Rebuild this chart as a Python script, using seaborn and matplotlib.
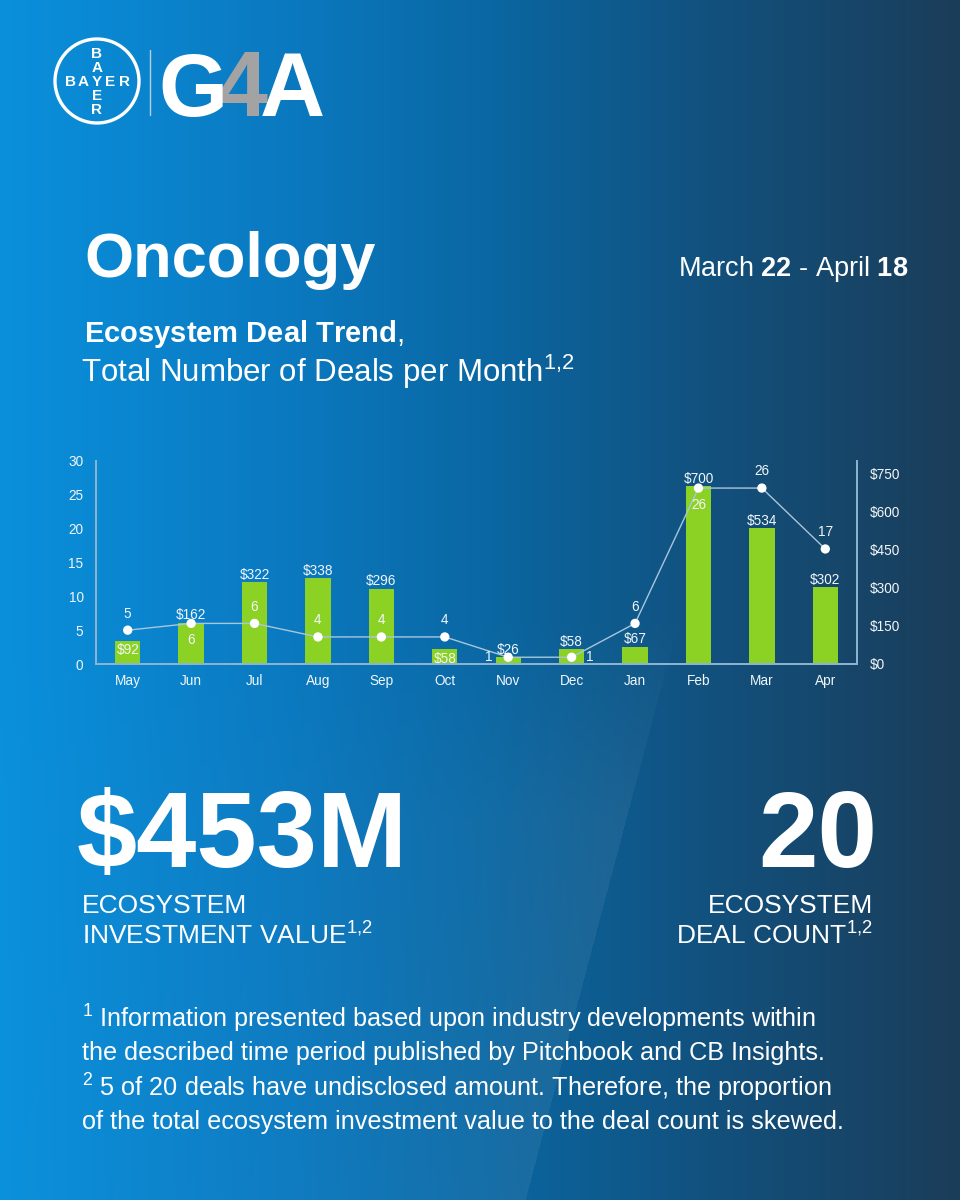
import numpy as np
import matplotlib
matplotlib.use('Agg')
import matplotlib.pyplot as plt
from matplotlib.patches import Circle
import seaborn as sns

months = ['May', 'Jun', 'Jul', 'Aug', 'Sep', 'Oct', 'Nov', 'Dec', 'Jan', 'Feb', 'Mar', 'Apr']
investment = [92, 162, 322, 338, 296, 58, 26, 58, 67, 700, 534, 302]   # $M, bars
deal_counts = [5, 6, 6, 4, 4, 4, 1, 1, 6, 26, 26, 17]                 # line
count_ticks = [0, 5, 10, 15, 20, 25, 30]
value_ticks = [0, 150, 300, 450, 600, 750]

# where each number label sits relative to its mark
value_label_pos = ['in', 'above', 'above', 'above', 'above', 'in',
                   'above', 'above', 'above', 'above', 'above', 'above']
count_label_pos = ['above', 'below', 'above', 'above', 'above', 'above',
                   'left', 'right', 'above', 'below', 'above', 'above']

W, H = 960, 1200
GREEN = '#8cd225'
LINE = '#a8c6dc'
SPINE = '#8db4d0'
TXT = '#f2f6fa'

sns.set_style('white')
plt.rcParams['font.family'] = ['Liberation Sans', 'DejaVu Sans']
plt.rcParams['mathtext.fontset'] = 'custom'
plt.rcParams['mathtext.rm'] = 'Liberation Sans'
plt.rcParams['mathtext.bf'] = 'Liberation Sans:bold'
plt.rcParams['mathtext.it'] = 'Liberation Sans:italic'


def background():
    xs = np.linspace(0, 1, W)
    stops = [0, 0.3, 0.5, 0.75, 1]
    cols = np.array([[10, 144, 220], [10, 121, 192], [10, 104, 164],
                     [18, 80, 124], [27, 61, 89]]) / 255
    row = np.stack([np.interp(xs, stops, cols[:, i]) for i in range(3)], axis=1)
    img = np.repeat(row[None, :, :], H, axis=0)
    # soft diagonal sheen in the lower half
    yy, xx = np.mgrid[0:H, 0:W]
    edge = 660 - (yy - 690) * 135 / 510
    d = edge - xx
    sheen = np.where(d > 0, np.exp(-np.clip(d, 0, None) / 260), 0) * np.clip((yy - 620) / 200, 0, 1)
    img = img + (1 - img) * 0.06 * sheen[..., None]
    return np.clip(img, 0, 1)


fig = plt.figure(figsize=(W / 100, H / 100), dpi=100)
bg = fig.add_axes([0, 0, 1, 1])
bg.imshow(background(), extent=(0, W, H, 0), aspect='auto', interpolation='bilinear')
bg.set_xlim(0, W)
bg.set_ylim(H, 0)
bg.axis('off')

# --- logo ---
bg.add_patch(Circle((97, 81), 42, fill=False, ec='white', lw=2.4))
for letter, dx in zip('BAYER', [-27, -13.5, 0, 13.5, 27]):
    bg.text(97 + dx, 82, letter, color='white', fontsize=11, weight='bold', ha='center', va='center')
for letter, dy in zip('BAER', [-28, -14, 14, 28]):
    bg.text(97, 82 + dy, letter, color='white', fontsize=11, weight='bold', ha='center', va='center')
bg.plot([150, 150], [50, 115], color='#b9cfe0', lw=1)
bg.text(158, 116, 'G', color='white', fontsize=64, weight='bold', va='baseline', zorder=3)
bg.text(217, 116, '4', color='#a3a3a3', fontsize=66, weight='bold', va='baseline', zorder=2)
bg.text(260, 116, 'A', color='white', fontsize=65, weight='bold', va='baseline', zorder=4)

# --- headings ---
bg.text(84, 277, 'Oncology', color='white', fontsize=45.5, weight='bold', va='baseline')
bg.text(908, 276, r'March $\mathbf{22}$ - April $\mathbf{18}$', color='white', fontsize=19.5,
        ha='right', va='baseline')
bg.text(84, 342, r'$\mathbf{Ecosystem\ Deal\ Trend}$,', color='white', fontsize=21, va='baseline')
bg.text(81, 382, r'Total Number of Deals per Month$^{1{,}2}$', color='white', fontsize=22.5, va='baseline')

# --- chart ---
ax = fig.add_axes([96 / W, 1 - 664 / H, 761 / W, 203 / H])
ax.set_facecolor('none')
sns.barplot(x=months, y=investment, ax=ax, color=GREEN, saturation=1, width=0.4,
            errorbar=None, linewidth=0, edgecolor='none')
ax.set_ylim(0, 800)
ax.set_xlim(-0.5, len(months) - 0.5)
ax.set_xticks(range(len(months)), months)
ax.set_xlabel('')
ax.set_ylabel('')

ax2 = ax.twinx()
ax2.set_facecolor('none')
x_pos = np.arange(len(months))
sns.lineplot(x=x_pos, y=deal_counts, ax=ax2, color=LINE, lw=1)
sns.scatterplot(x=x_pos, y=deal_counts, ax=ax2, color='white', s=45, edgecolor='none', zorder=3)
ax2.set_ylim(0, 30)
ax2.yaxis.tick_left()
ax2.set_yticks(count_ticks)
ax2.set_ylabel('')

# twinx moved the money axis left, put it back on the right
ax.yaxis.tick_right()
ax.set_yticks(value_ticks, [f'${v}' for v in value_ticks])

for a in (ax, ax2):
    a.spines['top'].set_visible(False)
    for side in ('left', 'right', 'bottom'):
        a.spines[side].set_color(SPINE)
        a.spines[side].set_linewidth(1.3)
    a.tick_params(length=0, colors=TXT, labelsize=9.8)
ax.tick_params(axis='y', pad=9)
ax2.tick_params(axis='y', pad=9)
ax.tick_params(axis='x', pad=7)

for i, v in enumerate(investment):
    if value_label_pos[i] == 'in':
        ax.annotate(f'${v}', (i, v), xytext=(0, -2), textcoords='offset points',
                    ha='center', va='top', color=TXT, fontsize=9.8)
    else:
        ax.annotate(f'${v}', (i, v), xytext=(0, 0.5), textcoords='offset points',
                    ha='center', va='bottom', color=TXT, fontsize=9.8)

offsets = {'above': (0, 12), 'below': (0, -12), 'left': (-14, 0), 'right': (13, 0)}
for i, c in enumerate(deal_counts):
    ax2.annotate(str(c), (i, c), xytext=offsets[count_label_pos[i]], textcoords='offset points',
                 ha='center', va='center', color=TXT, fontsize=9.8)

# --- key figures ---
bg.text(77, 867, '$453M', color='white', fontsize=78, weight='bold', va='baseline')
bg.text(877, 867, '20', color='white', fontsize=77, weight='bold', ha='right', va='baseline')
bg.text(82, 913, 'ECOSYSTEM', color='white', fontsize=19, va='baseline')
bg.text(82, 945, r'INVESTMENT VALUE$^{1{,}2}$', color='white', fontsize=19, va='baseline')
bg.text(873, 913, 'ECOSYSTEM', color='white', fontsize=19, ha='right', va='baseline')
bg.text(873, 945, r'DEAL COUNT$^{1{,}2}$', color='white', fontsize=19, ha='right', va='baseline')

# --- footnotes ---
notes = [
    r'$^{1}$ Information presented based upon industry developments within',
    'the described time period published by Pitchbook and CB Insights.',
    r'$^{2}$ 5 of 20 deals have undisclosed amount. Therefore, the proportion',
    'of the total ecosystem investment value to the deal count is skewed.',
]
for txt, y in zip(notes, [1028, 1060, 1097, 1129]):
    bg.text(82, y, txt, color='white', fontsize=18.2, va='baseline')

fig.savefig('out.png', dpi=100)
